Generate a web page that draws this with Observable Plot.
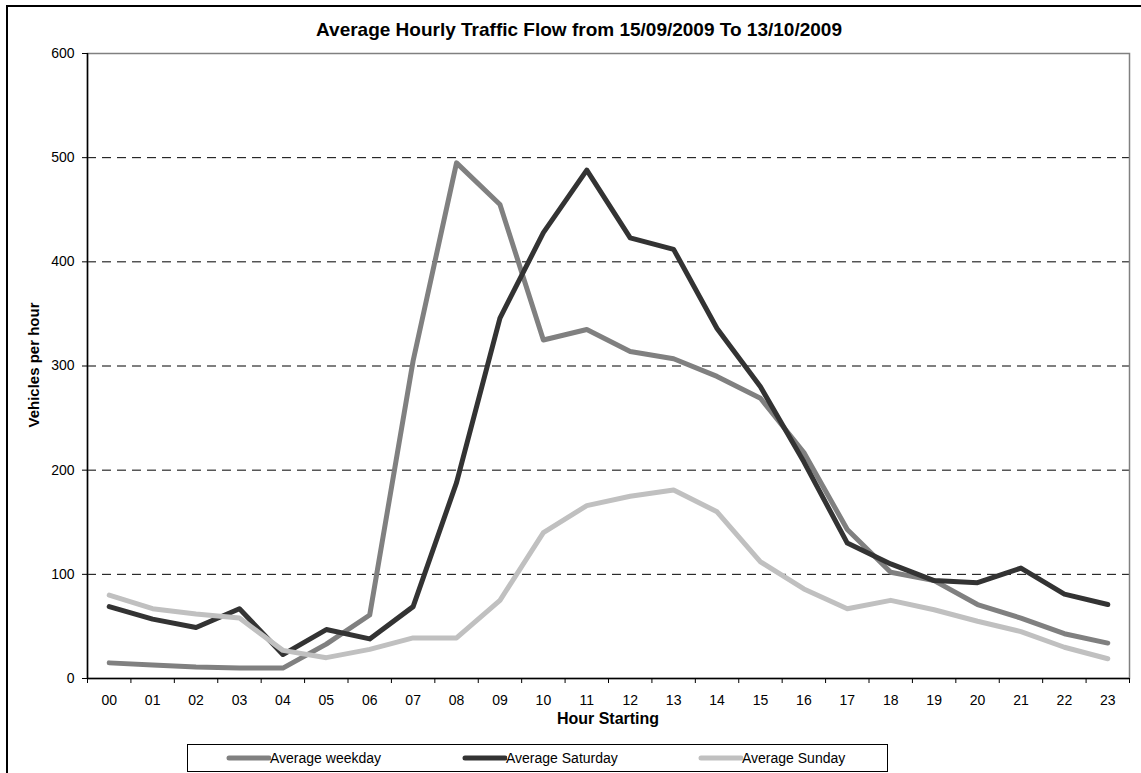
<!DOCTYPE html>
<html>
<head>
<meta charset="utf-8">
<script src="https://cdn.jsdelivr.net/npm/d3@7"></script>
<script src="https://cdn.jsdelivr.net/npm/@observablehq/plot@0.6"></script>
<style>
  html, body { margin: 0; padding: 0; background: #fff; overflow: hidden; }
  #wrap { position: relative; width: 1141px; height: 773px; font-family: "Liberation Sans", Arial, sans-serif; color: #000; }
  #border { position: absolute; left: 6px; top: 5px; width: 1150px; height: 780px; border-top: 2px solid #000; border-left: 2px solid #000; box-sizing: border-box; }
  #chart { position: absolute; left: 0; top: 0; }
  .title { position: absolute; top: 19px; left: 579px; transform: translateX(-50%); white-space: nowrap; font-weight: bold; font-size: 19px; }
  .xlabel { position: absolute; top: 710px; left: 608px; transform: translateX(-50%); white-space: nowrap; font-weight: bold; font-size: 16px; }
  .ylabel { position: absolute; left: 33px; top: 365px; transform: translate(-50%, -50%) rotate(-90deg); white-space: nowrap; font-weight: bold; font-size: 15px; }
  #legend { position: absolute; left: 187px; top: 744px; width: 701px; height: 28px; border: 1px solid #000; box-sizing: border-box; background: #fff; }
  .item { position: absolute; top: 0; height: 26px; display: flex; align-items: center; font-size: 14px; white-space: nowrap; }
  .item svg { display: block; }
</style>
</head>
<body>
<div id="wrap">
  <div id="border"></div>
  <div id="chart"></div>
  <div class="title" id="title"></div>
  <div class="xlabel" id="xlabel"></div>
  <div class="ylabel" id="ylabel"></div>
  <div id="legend"></div>
</div>
<script>
// ---- data ----
const titleText = "Average Hourly Traffic Flow from 15/09/2009 To 13/10/2009";
const xTitle = "Hour Starting";
const yTitle = "Vehicles per hour";
const hours = ["00","01","02","03","04","05","06","07","08","09","10","11","12","13","14","15","16","17","18","19","20","21","22","23"];
const yTicks = [0, 100, 200, 300, 400, 500, 600];
const seriesNames = ["Average weekday", "Average Saturday", "Average Sunday"];
const seriesColors = ["#808080", "#333333", "#c0c0c0"];
const weekday  = [15, 13, 11, 10, 10, 33, 61, 305, 495, 455, 325, 335, 314, 307, 290, 269, 217, 143, 102, 94, 71, 58, 43, 34];
const saturday = [69, 57, 49, 67, 23, 47, 38, 69, 188, 346, 428, 488, 423, 412, 336, 280, 208, 130, 110, 94, 92, 106, 81, 71];
const sunday   = [80, 67, 62, 58, 27, 20, 28, 39, 39, 75, 140, 166, 175, 181, 160, 112, 86, 67, 75, 66, 55, 45, 30, 19];
const seriesValues = [weekday, saturday, sunday];

// ---- build ----
const idx = hours.map((h, i) => i);
const xDomain = [-0.5, hours.length - 0.5];
const boundaries = d3.range(hours.length + 1).map(i => i - 0.5);

const lineMarks = seriesValues.map((vals, s) =>
  Plot.line(vals.map((v, i) => ({i, v})), {
    x: "i", y: "v",
    stroke: seriesColors[s], strokeWidth: 5,
    strokeLinecap: "round", strokeLinejoin: "round"
  })
);

const chart = Plot.plot({
  width: 1141,
  height: 773,
  marginLeft: 87,
  marginRight: 12,
  marginTop: 53,
  marginBottom: 95,
  x: {type: "linear", domain: xDomain},
  y: {domain: [yTicks[0], yTicks[yTicks.length - 1]]},
  style: {fontFamily: "'Liberation Sans', Arial, sans-serif", fontSize: "14px", background: "transparent", color: "#000"},
  marks: [
    Plot.gridY(yTicks.slice(1, -1), {stroke: "#000", strokeOpacity: 1, strokeWidth: 1, strokeDasharray: "9,6"}),
    Plot.frame({stroke: "#808080", strokeWidth: 1.5}),
    Plot.ruleX([xDomain[0]], {stroke: "#000", strokeWidth: 1.5}),
    Plot.ruleY([yTicks[0]], {stroke: "#000", strokeWidth: 1.5}),
    Plot.axisY({ticks: yTicks, tickSize: 5, tickPadding: 8, tickFormat: d => String(d), label: null, fontSize: 14}),
    Plot.axisX({ticks: boundaries, tickSize: 5, tickFormat: () => "", label: null}),
    Plot.axisX({ticks: idx, tickSize: 0, tickPadding: 17, tickFormat: i => hours[i], label: null, fontSize: 14}),
    ...lineMarks
  ]
});
document.getElementById("chart").appendChild(chart);

document.getElementById("title").textContent = titleText;
document.getElementById("xlabel").textContent = xTitle;
document.getElementById("ylabel").textContent = yTitle;

const legend = document.getElementById("legend");
const itemLefts = [38, 274, 510];
seriesNames.forEach((name, s) => {
  const item = document.createElement("div");
  item.className = "item";
  item.style.left = itemLefts[s] + "px";
  const sw = d3.create("svg").attr("width", 45).attr("height", 10);
  sw.append("line").attr("x1", 3).attr("x2", 43).attr("y1", 5).attr("y2", 5)
    .attr("stroke", seriesColors[s]).attr("stroke-width", 5).attr("stroke-linecap", "round");
  item.appendChild(sw.node());
  const t = document.createElement("span");
  t.textContent = name;
  t.style.marginLeft = "-1px";
  item.appendChild(t);
  legend.appendChild(item);
});
</script>
</body>
</html>
